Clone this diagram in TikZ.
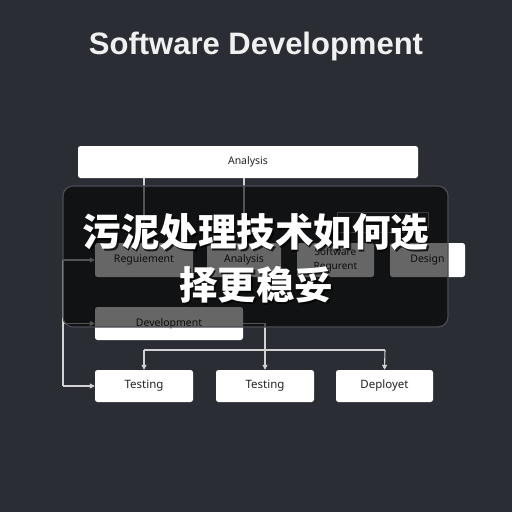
\documentclass[tikz,border=0pt]{standalone}
\usepackage{fontspec}
\setmainfont{Noto Sans}
\newfontfamily\titlefont{Liberation Sans}
\newfontfamily\cjk{Noto Sans CJK SC}
\usetikzlibrary{arrows.meta}
\definecolor{bgc}{HTML}{2B2D34}
\definecolor{linec}{HTML}{D2D2D2}
\definecolor{txtc}{HTML}{222222}
\definecolor{panelborder}{HTML}{4B4C52}
\begin{document}
\begin{tikzpicture}[x=1pt,y=-1pt,
  box/.style={draw=none, fill=white, rounded corners=2.5pt, inner sep=0pt, text=txtc, font=\fontsize{10.5}{12}\selectfont},
  conn/.style={draw=linec, line width=1.1pt},
  arr/.style={conn, -{Triangle[length=5pt,width=5pt]}},
  cjktext/.style={font=\cjk\bfseries\fontsize{38.5}{44}\selectfont, inner sep=0pt}]
\fill[bgc] (0,0) rectangle (512,512);
\useasboundingbox (0,0) rectangle (512,512);

\node[text=white!94!black, font=\titlefont\bfseries\fontsize{31}{36}\selectfont] (title) at (256,46) {Software Development};

\node[box, minimum width=340pt, minimum height=32pt] (ana) at (248,162) {Analysis};
\node[box, minimum width=98pt, minimum height=34pt] (req) at (144,260) {Reguiement};
\node[box, minimum width=74pt, minimum height=34pt] (ana2) at (244,260) {Analysis};
\node[box, minimum width=77pt, minimum height=34pt, align=center, font=\fontsize{10}{14}\selectfont] (soft) at (335.5,260) {Software\\Requrent};
\node[box, minimum width=75pt, minimum height=34pt] (des) at (427.5,260) {Design};
\node[draw=gray!80, line width=0.9pt, minimum width=91pt, minimum height=20pt, inner sep=0pt] (small) at (382.5,222) {};
\node[box, minimum width=148pt, minimum height=33pt] (dev) at (169,323.5) {Development};
\node[box, minimum width=98pt, minimum height=32pt, font=\fontsize{11.5}{13}\selectfont] (t1) at (144,386) {Testing};
\node[box, minimum width=98pt, minimum height=32pt, font=\fontsize{11.5}{13}\selectfont] (t2) at (265,386) {Testing};
\node[box, minimum width=97pt, minimum height=32pt, font=\fontsize{11.5}{13}\selectfont] (dep) at (384.5,386) {Deployet};

\draw[conn] (ana.south -| req.north) -- (req.north);
\draw[conn] (ana.south -| ana2.north) -- (ana2.north);

\coordinate (l1) at (63,260);
\coordinate (l2) at (63,323.5);
\coordinate (l3) at (63,386);
\draw[conn] (l1) -- (l3);
\draw[arr] (l1) -- (req.west);
\draw[arr] (l2) -- (dev.west);
\draw[arr] (l3) -- (t1.west);

\draw[arr] (dev.east) -| (t2.north);
\coordinate (hl) at (144,350);
\coordinate (hr) at (385,350);
\draw[conn] (hl) -- (hr);
\draw[arr] (hl) -- (t1.north);
\draw[arr] (hr) -- (dep.north);

\draw[draw=panelborder, line width=1.2pt, fill=black, fill opacity=0.6, rounded corners=10pt] (63,186) rectangle (448,327);

\node[cjktext, text=black, opacity=0.75] (s1) at (257.5,234) {污泥处理技术如何选};
\node[cjktext, text=black, opacity=0.75] (s2) at (257.5,287) {择更稳妥};
\node[cjktext, text=white] (c1) at (256,232) {污泥处理技术如何选};
\node[cjktext, text=white] (c2) at (256,285) {择更稳妥};
\end{tikzpicture}
\end{document}
